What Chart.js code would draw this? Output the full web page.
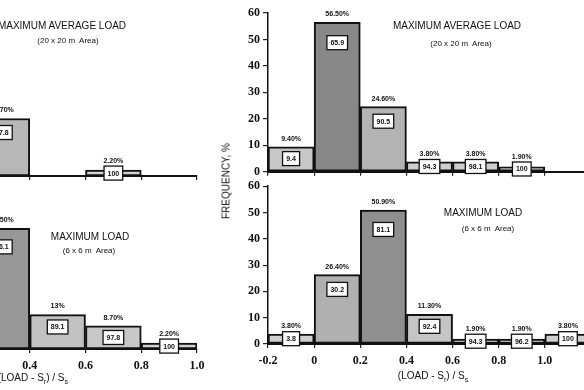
<!DOCTYPE html>
<html><head><meta charset="utf-8">
<script src="https://cdn.jsdelivr.net/npm/chart.js@4/dist/chart.umd.min.js"></script>
<style>
html,body{margin:0;padding:0;width:584px;height:390px;overflow:hidden;background:#fff;position:relative;font-family:'Liberation Sans',Arial,sans-serif;}
canvas{position:absolute;}
.t{position:absolute;white-space:nowrap;transform:translate(-50%,-50%);color:#111;z-index:5;}
.h{font-size:10px;}
.s{font-size:8px;}
.ax{font-size:10px;}
sub{font-size:7px;vertical-align:-3px;}
</style></head><body>
<canvas id="lt" width="283" height="186" style="left:-66px;top:0"></canvas>
<canvas id="lb" width="283" height="214" style="left:-66px;top:176px"></canvas>
<canvas id="rt" width="391" height="182" style="left:220px;top:0"></canvas>
<canvas id="rb" width="391" height="214" style="left:220px;top:176px"></canvas>

<div class="t h" style="left:62px;top:25px">MAXIMUM AVERAGE LOAD</div>
<div class="t s" style="left:68px;top:40px">(20 x 20 m&nbsp; Area)</div>
<div class="t h" style="left:90px;top:236px">MAXIMUM LOAD</div>
<div class="t s" style="left:89px;top:250px">(6 x 6 m&nbsp; Area)</div>
<div class="t h" style="left:457px;top:25px">MAXIMUM AVERAGE LOAD</div>
<div class="t s" style="left:461px;top:43px">(20 x 20 m&nbsp; Area)</div>
<div class="t h" style="left:483px;top:212px">MAXIMUM LOAD</div>
<div class="t s" style="left:488px;top:228px">(6 x 6 m&nbsp; Area)</div>
<div class="t ax" style="left:433px;top:376px">(LOAD - S<sub>r</sub>) / S<sub>s</sub></div>
<div class="t ax" style="left:68px;top:378px;transform:translate(-100%,-50%)">(LOAD - S<sub>r</sub>) / S<sub>s</sub></div>
<div class="t ax" style="left:226px;top:181px;transform:translate(-50%,-50%) rotate(-90deg)">FREQUENCY, %</div>

<script>
// ---- data ----
const rightBinCenters = [-0.1, 0.1, 0.3, 0.5, 0.7, 0.9, 1.1];
const leftBinCenters  = [0.3, 0.5, 0.7, 0.9];

// Maximum average load (20 x 20 m area), right panel
const avgRightFreq = [9.4, 56.5, 24.6, 3.8, 3.8, 1.9];
const avgRightCum  = [9.4, 65.9, 90.5, 94.3, 98.1, 100];
// Maximum load (6 x 6 m area), right panel
const maxRightFreq = [3.8, 26.4, 50.9, 11.3, 1.9, 1.9, 3.8];
const maxRightCum  = [3.8, 30.2, 81.1, 92.4, 94.3, 96.2, 100];
// Left (cropped) panels
const avgLeftFreq = [21.7, null, 2.2, null];
const avgLeftCum  = [97.8, null, 100, null];
const maxLeftFreq = [45.5, 13, 8.7, 2.2];
const maxLeftCum  = [76.1, 89.1, 97.8, 100];

const yMax = 60, yStep = 10, xStep = 0.2;

// ---- helpers ----
const fmtTick = v => Math.abs(v) < 1e-9 ? '0' : v.toFixed(1);
const fmtPct = v => Number.isInteger(v) ? v + '%' : v.toFixed(2) + '%';
function shade(v) {
  if (v == null) return 'rgba(0,0,0,0)';
  const g = Math.round(212 - v * 1.35);
  return `rgb(${g},${g},${g})`;
}
const tickFont = {family: 'Liberation Serif', weight: 'bold', size: 12};

const labelPlugin = {
  id: 'barLabels',
  afterDatasetsDraw(chart) {
    const ctx = chart.ctx;
    const ds = chart.data.datasets[0];
    const meta = chart.getDatasetMeta(0);
    ctx.save();
    meta.data.forEach((el, i) => {
      const v = ds.data[i].y;
      if (v == null) return;
      const top = el.y, base = el.base, h = base - top;
      const cy = top + Math.min(h / 2, 10 + 0.07 * h);
      ctx.font = 'bold 7px "Liberation Sans", Arial';
      const txt = String(ds.cum[i]);
      const w = Math.max(17, ctx.measureText(txt).width + 7), bh = 14;
      ctx.fillStyle = '#fff';
      ctx.fillRect(el.x - w / 2, cy - bh / 2, w, bh);
      ctx.strokeStyle = '#111';
      ctx.lineWidth = 1.3;
      ctx.strokeRect(el.x - w / 2, cy - bh / 2, w, bh);
      ctx.fillStyle = '#111';
      ctx.textAlign = 'center';
      ctx.textBaseline = 'middle';
      ctx.fillText(txt, el.x, cy + 0.5);
      const ly = Math.min(top - 8, cy - bh / 2 - 5);
      ctx.fillText(fmtPct(v), el.x, ly);
    });
    ctx.restore();
  }
};

function makePanel(id, centers, freq, cum, o) {
  const data = freq.map((y, i) => ({x: centers[i], y: y}));
  return new Chart(document.getElementById(id), {
    type: 'bar',
    data: {datasets: [{
      data: data, cum: cum,
      backgroundColor: c => shade(c.raw ? c.raw.y : null),
      borderColor: '#111', borderWidth: 2, borderSkipped: false,
      barPercentage: 1, categoryPercentage: 1
    }]},
    options: {
      responsive: false, animation: false, events: [],
      layout: {padding: o.pad},
      plugins: {legend: {display: false}, tooltip: {enabled: false}, title: {display: false}},
      scales: {
        x: {
          type: 'linear', min: o.xmin, max: o.xmax, offset: false,
          afterFit: s => { s.height = o.xh; },
          ticks: {display: o.labels, stepSize: xStep, callback: fmtTick, font: tickFont,
                  color: '#111', padding: 6, maxRotation: 0, autoSkip: false},
          grid: {display: true, offset: false, drawOnChartArea: false, drawTicks: true, tickLength: 4,
                 color: '#222', lineWidth: 1.2},
          border: {display: true, color: '#111', width: 2}
        },
        y: {
          display: o.yaxis, min: 0, max: yMax,
          afterFit: s => { s.width = o.yaxis ? 48 : 0; },
          ticks: {stepSize: yStep, font: tickFont, color: '#111', padding: 3},
          grid: {display: true, drawOnChartArea: false, tickLength: 5, color: '#222', lineWidth: 1.2},
          border: {display: true, color: '#111', width: 1.5}
        }
      }
    },
    plugins: [labelPlugin]
  });
}

makePanel('lt', leftBinCenters, avgLeftFreq, avgLeftCum,
  {xmin: 0.2, xmax: 1.0, xh: 10, labels: false, yaxis: false, pad: {top: 17, left: 40, right: 20, bottom: 0}});
makePanel('lb', leftBinCenters, maxLeftFreq, maxLeftCum,
  {xmin: 0.2, xmax: 1.0, xh: 24, labels: true, yaxis: false, pad: {top: 14, left: 40, right: 20, bottom: 17}});
makePanel('rt', rightBinCenters, avgRightFreq, avgRightCum,
  {xmin: -0.2, xmax: 1.2, xh: 10, labels: false, yaxis: true, pad: {top: 13, left: 0, right: 20, bottom: 0}});
makePanel('rb', rightBinCenters, maxRightFreq, maxRightCum,
  {xmin: -0.2, xmax: 1.2, xh: 24, labels: true, yaxis: true, pad: {top: 9, left: 0, right: 20, bottom: 22}});
</script>
</body></html>
